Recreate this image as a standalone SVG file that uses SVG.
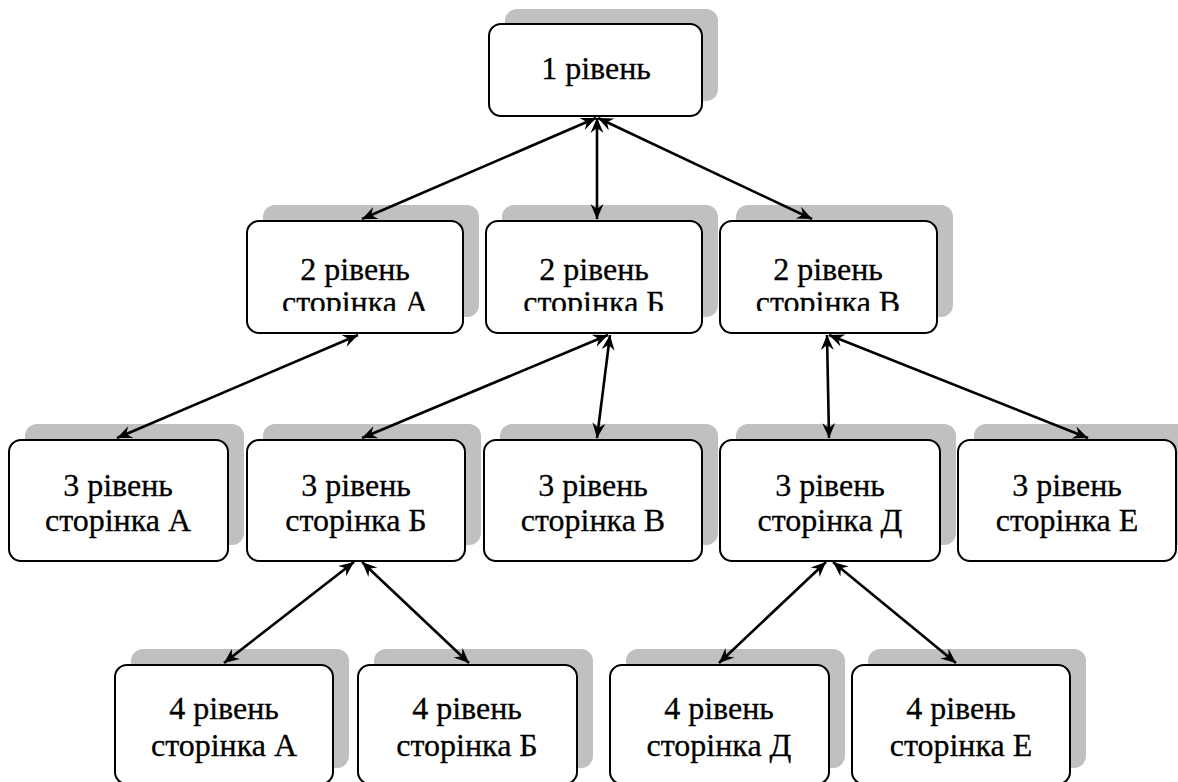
<svg xmlns="http://www.w3.org/2000/svg" width="1178" height="782" viewBox="0 0 1178 782">
  <style>
    .shadow { fill: #c0c0c0; }
    .box { fill: #ffffff; stroke: #000000; stroke-width: 2; }
    .label { font-size: 32px; fill: #000000; stroke: #000000; stroke-width: 0.3; text-anchor: middle; }
    .link { stroke: #000000; stroke-width: 2.6; fill: none; marker-start: url(#ah); marker-end: url(#ah); }
  </style>
  <defs>
    <marker id="ah" markerUnits="userSpaceOnUse" viewBox="-16 -8 17 16" markerWidth="17" markerHeight="16" refX="0" refY="0" orient="auto-start-reverse">
      <path d="M0,0 L-15,-6.5 L-10,0 L-15,6.5 Z" fill="#000000"/>
    </marker>
    <!-- second line of the level-2 boxes is cut off by the text frame -->
    <clipPath id="clipL2A"><rect x="247" y="221" width="216" height="90"/></clipPath>
    <clipPath id="clipL2B"><rect x="486" y="221" width="216" height="90"/></clipPath>
    <clipPath id="clipL2C"><rect x="720" y="221" width="217" height="90"/></clipPath>
  </defs>

  <rect width="1178" height="782" fill="#ffffff"/>

  <g font-family="'Liberation Serif', 'Times New Roman', serif">
  <!-- level 1 -->
  <g id="n1">
    <rect class="shadow" x="505" y="9" width="213" height="92" rx="12"/>
    <rect class="box" x="489" y="24" width="213" height="92" rx="12"/>
    <text class="label" x="596" y="79">1 рівень</text>
  </g>

  <!-- level 2 -->
  <g id="n2a">
    <rect class="shadow" x="263" y="205" width="216" height="112" rx="12"/>
    <rect class="box" x="247" y="221" width="216" height="112" rx="12"/>
    <g clip-path="url(#clipL2A)">
      <text class="label" x="355" y="280">2 рівень</text>
      <text class="label" x="355" y="313">сторінка А</text>
    </g>
  </g>
  <g id="n2b">
    <rect class="shadow" x="502" y="205" width="216" height="112" rx="12"/>
    <rect class="box" x="486" y="221" width="216" height="112" rx="12"/>
    <g clip-path="url(#clipL2B)">
      <text class="label" x="594" y="280">2 рівень</text>
      <text class="label" x="594" y="313">сторінка Б</text>
    </g>
  </g>
  <g id="n2c">
    <rect class="shadow" x="736" y="205" width="217" height="112" rx="12"/>
    <rect class="box" x="720" y="221" width="217" height="112" rx="12"/>
    <g clip-path="url(#clipL2C)">
      <text class="label" x="828" y="280">2 рівень</text>
      <text class="label" x="828" y="313">сторінка В</text>
    </g>
  </g>

  <!-- level 3 -->
  <g id="n3a">
    <rect class="shadow" x="25" y="424" width="219" height="121" rx="12"/>
    <rect class="box" x="9" y="440" width="219" height="121" rx="12"/>
    <text class="label" x="118" y="496">3 рівень</text>
    <text class="label" x="118" y="531">сторінка А</text>
  </g>
  <g id="n3b">
    <rect class="shadow" x="263" y="424" width="218" height="121" rx="12"/>
    <rect class="box" x="247" y="440" width="218" height="121" rx="12"/>
    <text class="label" x="356" y="496">3 рівень</text>
    <text class="label" x="356" y="531">сторінка Б</text>
  </g>
  <g id="n3c">
    <rect class="shadow" x="500" y="424" width="218" height="121" rx="12"/>
    <rect class="box" x="484" y="440" width="218" height="121" rx="12"/>
    <text class="label" x="593" y="496">3 рівень</text>
    <text class="label" x="593" y="531">сторінка В</text>
  </g>
  <g id="n3d">
    <rect class="shadow" x="736" y="424" width="220" height="121" rx="12"/>
    <rect class="box" x="720" y="440" width="220" height="121" rx="12"/>
    <text class="label" x="830" y="496">3 рівень</text>
    <text class="label" x="830" y="531">сторінка Д</text>
  </g>
  <g id="n3e">
    <rect class="shadow" x="974" y="424" width="218" height="121" rx="12"/>
    <rect class="box" x="958" y="440" width="218" height="121" rx="12"/>
    <text class="label" x="1067" y="496">3 рівень</text>
    <text class="label" x="1067" y="531">сторінка Е</text>
  </g>

  <!-- level 4 -->
  <g id="n4a">
    <rect class="shadow" x="131" y="649" width="218" height="119" rx="12"/>
    <rect class="box" x="115" y="665" width="218" height="119" rx="12"/>
    <text class="label" x="224" y="719">4 рівень</text>
    <text class="label" x="224" y="756">сторінка А</text>
  </g>
  <g id="n4b">
    <rect class="shadow" x="374" y="649" width="219" height="119" rx="12"/>
    <rect class="box" x="358" y="665" width="219" height="119" rx="12"/>
    <text class="label" x="467" y="719">4 рівень</text>
    <text class="label" x="467" y="756">сторінка Б</text>
  </g>
  <g id="n4c">
    <rect class="shadow" x="626" y="649" width="219" height="119" rx="12"/>
    <rect class="box" x="610" y="665" width="219" height="119" rx="12"/>
    <text class="label" x="719" y="719">4 рівень</text>
    <text class="label" x="719" y="756">сторінка Д</text>
  </g>
  <g id="n4d">
    <rect class="shadow" x="868" y="649" width="218" height="119" rx="12"/>
    <rect class="box" x="852" y="665" width="218" height="119" rx="12"/>
    <text class="label" x="961" y="719">4 рівень</text>
    <text class="label" x="961" y="756">сторінка Е</text>
  </g>
  </g>

  <!-- connectors -->
  <g id="links">
    <line class="link" x1="596" y1="118" x2="362" y2="219"/>
    <line class="link" x1="597" y1="118" x2="597" y2="219"/>
    <line class="link" x1="598" y1="118" x2="812" y2="219"/>
    <line class="link" x1="358" y1="335" x2="117" y2="438"/>
    <line class="link" x1="608" y1="335" x2="362" y2="438"/>
    <line class="link" x1="610" y1="335" x2="597" y2="438"/>
    <line class="link" x1="827" y1="335" x2="829" y2="438"/>
    <line class="link" x1="829" y1="335" x2="1088" y2="438"/>
    <line class="link" x1="354" y1="562" x2="224" y2="663"/>
    <line class="link" x1="362" y1="562" x2="469" y2="663"/>
    <line class="link" x1="826" y1="562" x2="719" y2="663"/>
    <line class="link" x1="833" y1="562" x2="956" y2="663"/>
  </g>
</svg>
